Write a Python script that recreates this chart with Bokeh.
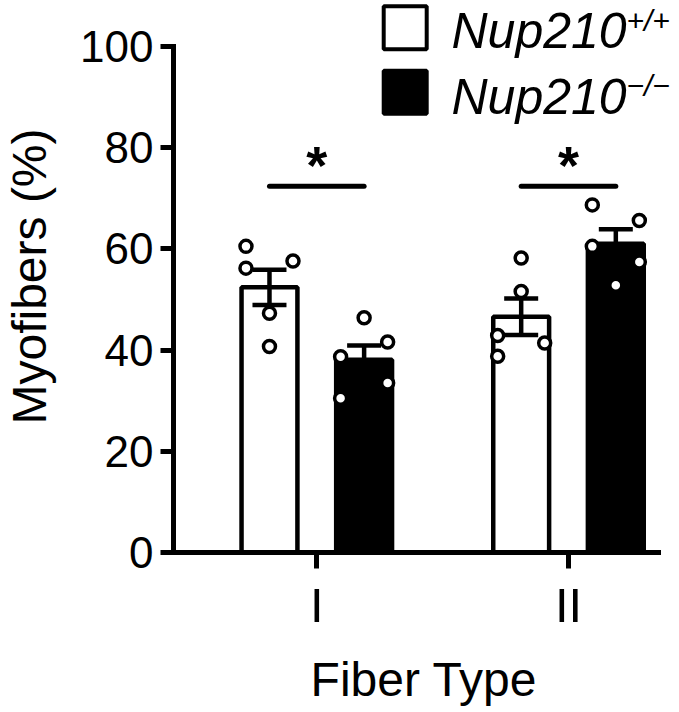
from bokeh.plotting import figure
from bokeh.models import FixedTicker
from bokeh.core.properties import value
from bokeh.embed import file_html
from bokeh.resources import INLINE

# ---------------- data ----------------
categories = ["I", "II"]
legend_base = ["Nup210", "Nup210"]
legend_sup = ["+/+", "\u2212/\u2212"]

wt_mean = [52.4, 46.6]
wt_sem = [3.5, 3.6]
ko_mean = [38.1, 61.0]
ko_sem = [2.8, 2.9]

wt_I = [60.5, 56.2, 57.6, 47.3, 40.7]
ko_I = [46.4, 41.6, 38.7, 33.5, 30.5]
wt_II = [58.2, 51.6, 42.9, 41.4, 38.8]
ko_II = [68.7, 65.6, 60.5, 57.4, 52.8]

jit_wt_I = [-1, -1, 1, 0, 0]
jit_ko_I = [0, 1, -1, 1, -1]
jit_wt_II = [0, 0, -1, 1, -1]
jit_ko_II = [-1, 1, -1, 1, 0]

sig_y = [72.4, 72.4]
sig_text = ["*", "*"]
y_ticks = [0, 20, 40, 60, 80, 100]

# ---------------- layout helpers (canvas pixels -> data) ----------------
FONT = "Liberation Sans"
PX_PER_X = 251.7
PX_PER_Y = 5.06
W, H = 671, 704
FRAME_L, FRAME_B = 170, 552


def dx(px):
    return 1 + (px - 313.3) / PX_PER_X


def dy(py):
    return (FRAME_B - py) / PX_PER_Y


DODGE = 0.188
BAR_W = 0.222
JIT = 0.0934

p = figure(
    frame_width=W - FRAME_L, frame_height=FRAME_B,
    x_range=(dx(FRAME_L), dx(W)), y_range=(0, dy(0)),
    output_backend="svg", toolbar_location=None,
    min_border_left=FRAME_L, min_border_right=0, min_border_top=0,
    min_border_bottom=H - FRAME_B,
)
p.outline_line_color = None
p.xgrid.grid_line_color = None
p.ygrid.grid_line_color = None
p.background_fill_color = "white"
p.border_fill_color = "white"

cx = [i + 1 for i in range(len(categories))]
x_wt = [c - DODGE for c in cx]
x_ko = [c + DODGE for c in cx]

# bars
p.vbar(x=x_wt, top=wt_mean, bottom=0, width=BAR_W, fill_color="white",
       line_color="black", line_width=4.5)
p.vbar(x=x_ko, top=ko_mean, bottom=0, width=BAR_W, fill_color="black",
       line_color="black", line_width=4.5)

# error bars (mean +/- SEM)
for xs, ms, ss in ((x_wt, wt_mean, wt_sem), (x_ko, ko_mean, ko_sem)):
    lo = [m - s for m, s in zip(ms, ss)]
    hi = [m + s for m, s in zip(ms, ss)]
    p.segment(x0=xs, y0=lo, x1=xs, y1=hi, line_color="black", line_width=4.5)
    p.scatter(x=xs + xs, y=lo + hi, marker="dash", size=34, line_color="black",
              line_width=4.5)

# individual points
groups = [
    (x_wt[0], wt_I, jit_wt_I), (x_ko[0], ko_I, jit_ko_I),
    (x_wt[1], wt_II, jit_wt_II), (x_ko[1], ko_II, jit_ko_II),
]
for xc, vals, jit in groups:
    p.scatter(x=[xc + j * JIT for j in jit], y=vals, marker="circle", size=12,
              fill_color="white", line_color="black", line_width=3.5)

# significance
p.segment(x0=x_wt, y0=sig_y, x1=x_ko, y1=sig_y, line_color="black",
          line_width=5, line_cap="round")
p.text(x=cx, y=sig_y, text=sig_text, text_font=value(FONT), text_font_style="bold",
       text_font_size="54px", text_align="center", text_baseline="alphabetic",
       y_offset=-21, text_color="black")

# legend
p.scatter(x=[dx(401.7)] * 2, y=[dy(27.2), dy(91.7)], marker="square", size=43,
          fill_color=["white", "black"], line_color="black", line_width=4)
p.text(x=[dx(448)] * 2, y=[dy(51.7), dy(117)], text=legend_base,
       text_font=value(FONT), text_font_style="italic", text_font_size="50px",
       text_align="left", text_baseline="alphabetic", y_offset=-21,
       text_color="black")
p.text(x=[dx(623)] * 2, y=[dy(31), dy(96)], text=legend_sup,
       text_font=value(FONT), text_font_style="italic", text_font_size="30px",
       text_align="left", text_baseline="alphabetic", y_offset=-11,
       text_color="black")

# axes
yax = p.yaxis[0]
yax.ticker = FixedTicker(ticks=y_ticks)
yax.bounds = (0, 100)
yax.axis_line_width = 5
yax.axis_line_cap = "square"
yax.major_tick_line_width = 5
yax.major_tick_out = 13
yax.major_tick_in = 0
yax.minor_tick_line_color = None
yax.major_label_text_font = FONT
yax.major_label_text_font_size = "44px"
yax.major_label_text_color = "black"
yax.major_label_standoff = 7
yax.axis_label = "Myofibers (%)"
yax.axis_label_text_font = FONT
yax.axis_label_text_font_size = "48px"
yax.axis_label_text_font_style = "normal"
yax.axis_label_text_color = "black"
yax.axis_label_standoff = 21

xax = p.xaxis[0]
xax.ticker = FixedTicker(ticks=cx)
xax.major_label_overrides = {c: lab for c, lab in zip(cx, categories)}
xax.bounds = (dx(FRAME_L), dx(655))
xax.axis_line_width = 5
xax.axis_line_cap = "square"
xax.major_tick_line_width = 5
xax.major_tick_out = 16
xax.major_tick_in = 0
xax.minor_tick_line_color = None
xax.major_label_text_font = FONT
xax.major_label_text_font_size = "49px"
xax.major_label_text_color = "black"
xax.major_label_standoff = 9
xax.axis_label = "Fiber Type"
xax.axis_label_text_font = FONT
xax.axis_label_text_font_size = "48px"
xax.axis_label_text_font_style = "normal"
xax.axis_label_text_color = "black"
xax.axis_label_standoff = 18

open("out.html", "w").write(file_html(p, INLINE))
